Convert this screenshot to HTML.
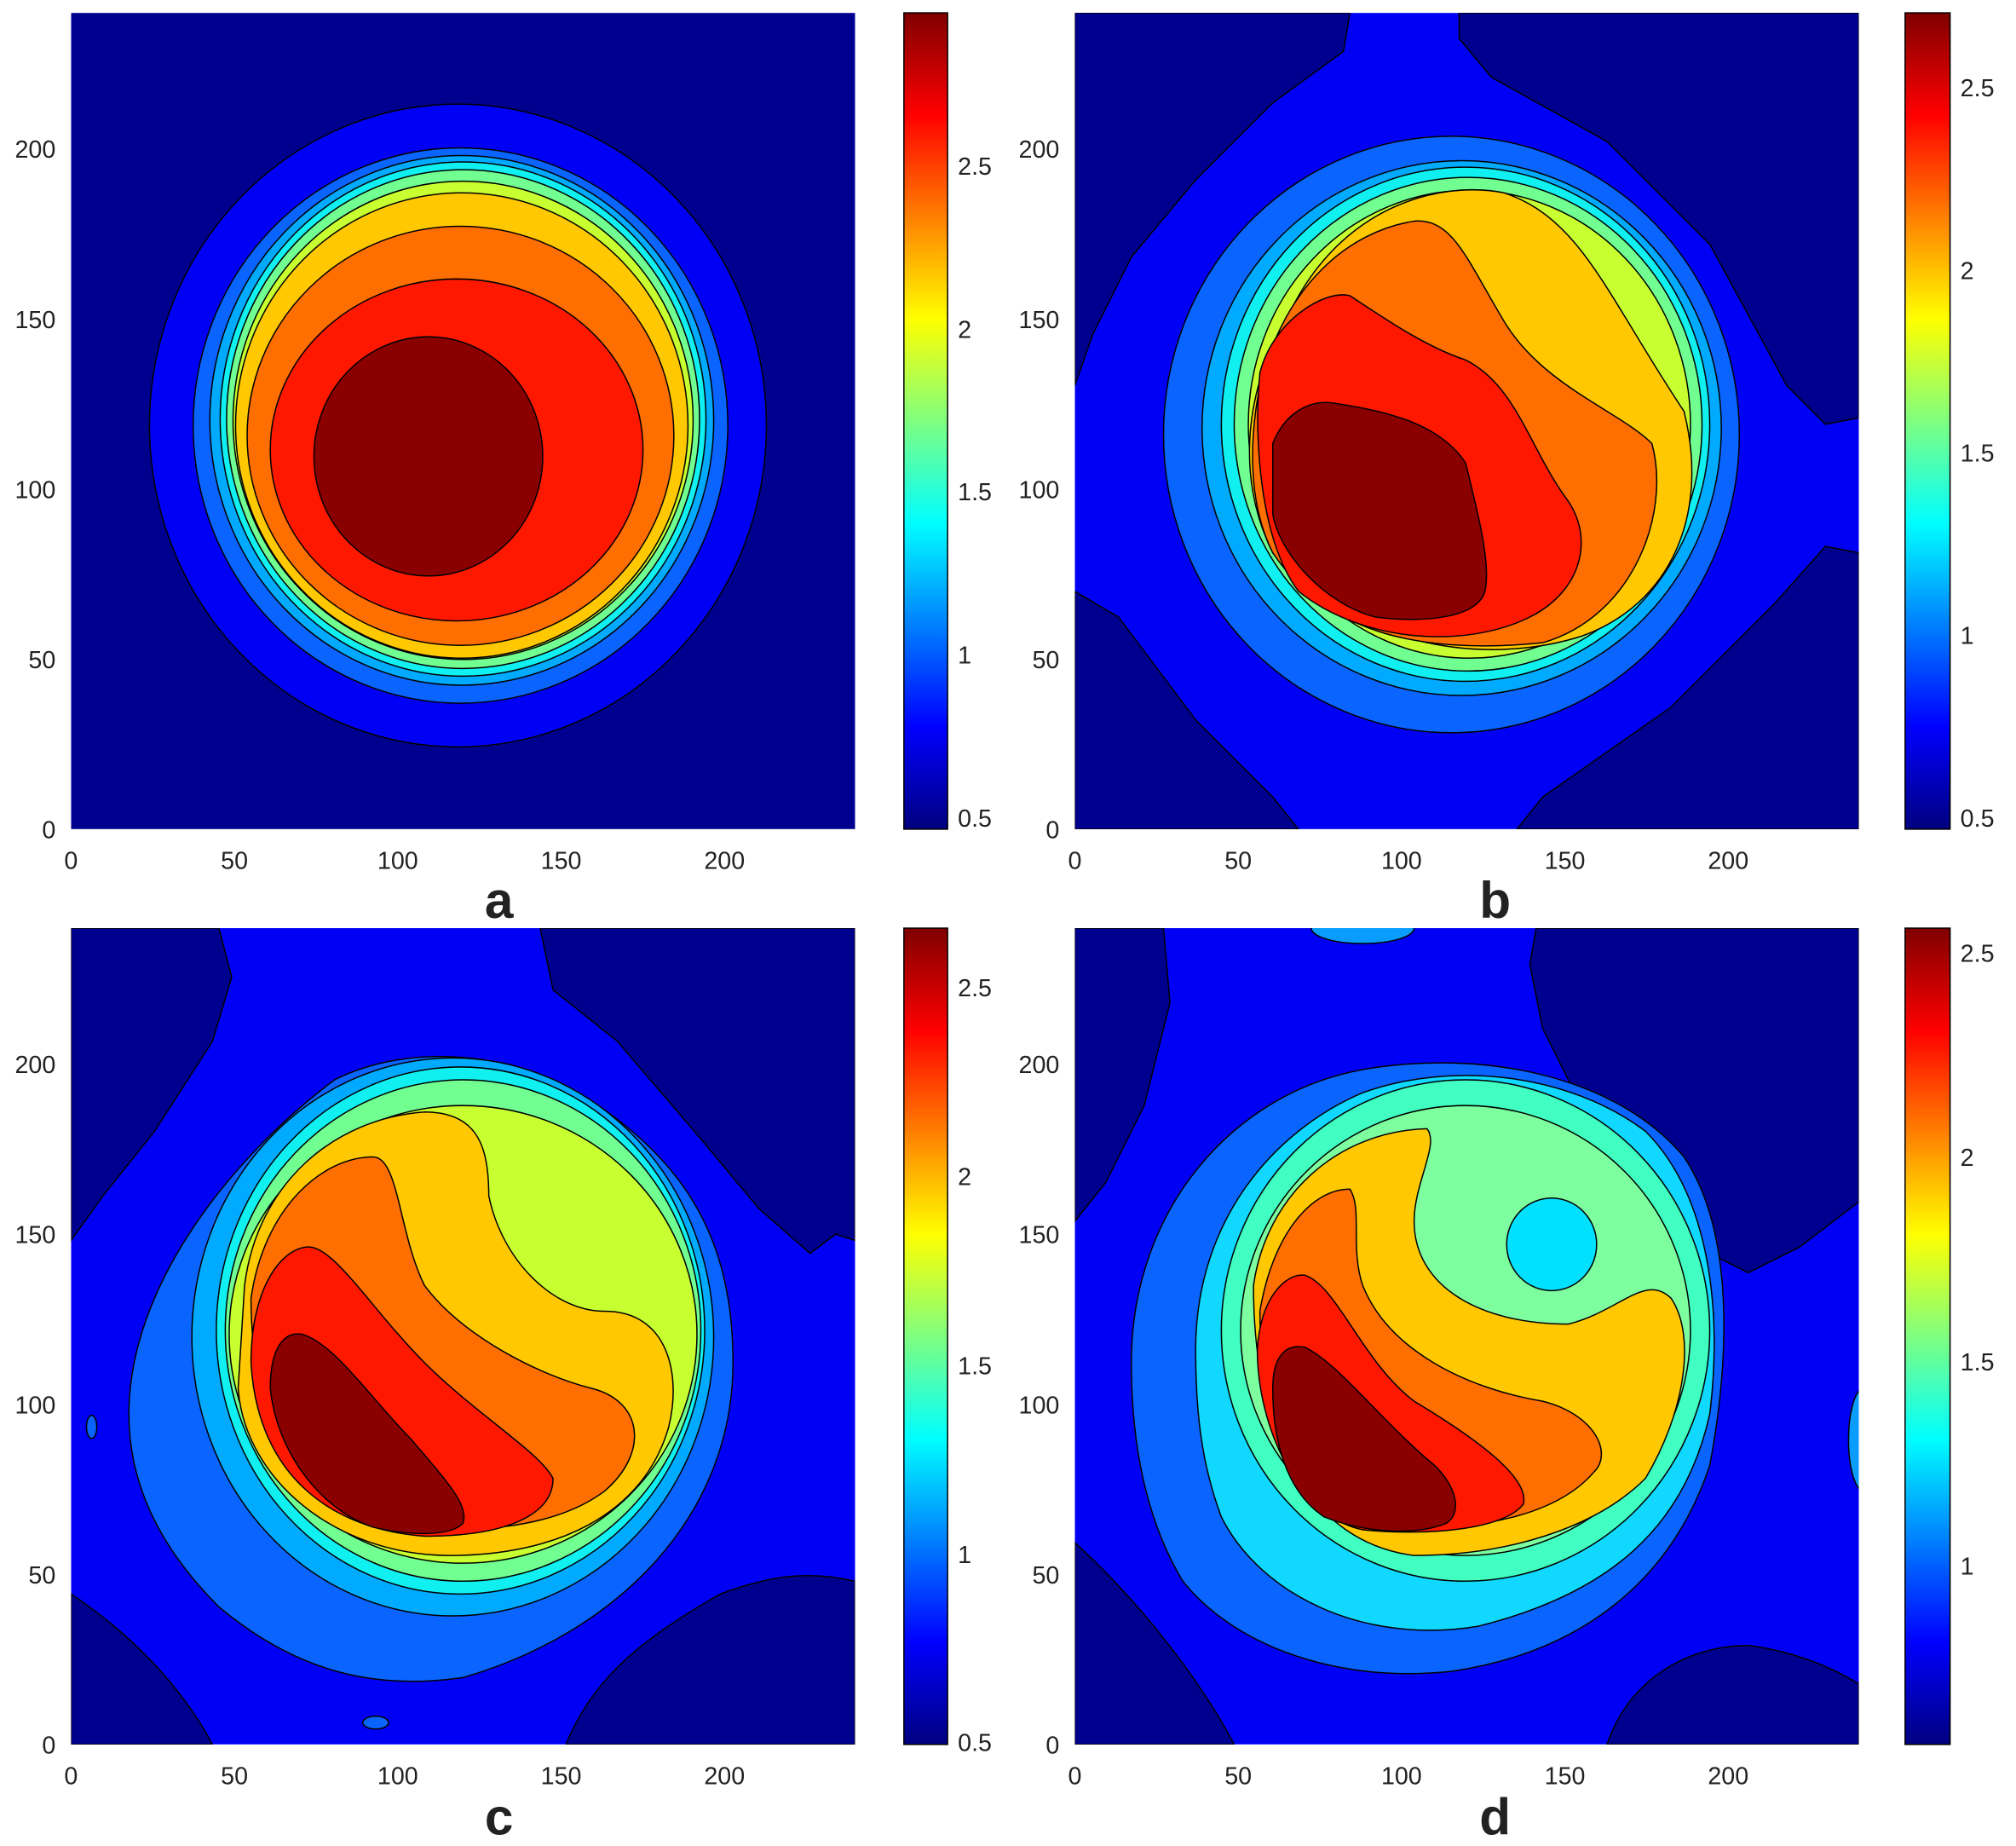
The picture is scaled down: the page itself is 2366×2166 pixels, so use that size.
<!DOCTYPE html>
<html><head><meta charset="utf-8"><style>
html,body{margin:0;padding:0;background:#fff}
svg{display:block}
text{font-family:"Liberation Sans",sans-serif}
</style></head><body>
<svg id="s" width="2366" height="2166" viewBox="0 0 1568 1436" xmlns="http://www.w3.org/2000/svg">
<defs>
<linearGradient id="jet" x1="0" y1="1" x2="0" y2="0">
<stop offset="0" stop-color="#00007f"/><stop offset="0.125" stop-color="#0000ff"/>
<stop offset="0.375" stop-color="#00ffff"/><stop offset="0.625" stop-color="#ffff00"/>
<stop offset="0.875" stop-color="#ff0000"/><stop offset="1" stop-color="#7f0000"/>
</linearGradient>
<clipPath id="ca"><rect x="55" y="10" width="610" height="635"/></clipPath>
<clipPath id="cb"><rect x="836" y="10" width="610" height="635"/></clipPath>
<clipPath id="cc"><rect x="55" y="722" width="610" height="635"/></clipPath>
<clipPath id="cd"><rect x="836" y="722" width="610" height="635"/></clipPath>
</defs>
<g stroke="#000" stroke-width="1">
<!-- Panel a -->
<g clip-path="url(#ca)">
<rect x="55" y="10" width="610" height="635" fill="#00008f" stroke="none"/>
<ellipse cx="356" cy="331" rx="240" ry="250" fill="#0000f5"/>
<ellipse cx="358" cy="331" rx="208" ry="216" fill="#0a64ff"/>
<ellipse cx="359" cy="327" rx="196" ry="206" fill="#00aaff"/>
<ellipse cx="360" cy="326" rx="189" ry="200" fill="#10f0f0"/>
<ellipse cx="360" cy="326" rx="184" ry="194" fill="#70ff90"/>
<ellipse cx="360" cy="327" rx="179" ry="186" fill="#c8ff30"/>
<ellipse cx="359" cy="331" rx="176" ry="181" fill="#ffc800"/>
<ellipse cx="358" cy="339" rx="166" ry="163" fill="#ff6e00"/>
<ellipse cx="355" cy="350" rx="145" ry="133" fill="#ff1800"/>
<ellipse cx="333" cy="355" rx="89" ry="93" fill="#8a0000"/>
</g>
<!-- Panel b -->
<g clip-path="url(#cb)">
<rect x="836" y="10" width="610" height="635" fill="#0000f5" stroke="none"/>
<path d="M836,10 L1050,10 1045,40 990,80 930,140 880,200 850,260 836,300Z" fill="#00008f"/>
<path d="M1135,10 L1446,10 1446,325 1420,330 1390,300 1330,190 1250,110 1160,60 1135,30Z" fill="#00008f"/>
<path d="M836,460 L870,480 930,560 990,620 1010,645 836,645Z" fill="#00008f"/>
<path d="M1180,645 L1200,620 1300,550 1380,470 1420,425 1446,430 1446,645Z" fill="#00008f"/>
<ellipse cx="1129" cy="338" rx="224" ry="232" fill="#0a64ff"/>
<ellipse cx="1137" cy="333" rx="202" ry="208" fill="#00aaff"/>
<ellipse cx="1140" cy="330" rx="190" ry="200" fill="#10f0f0"/>
<ellipse cx="1142" cy="330" rx="182" ry="192" fill="#70ff90"/>
<ellipse cx="1143" cy="330" rx="172" ry="182" fill="#c8ff30"/>
<path d="M1000,250 C1040,160 1120,140 1170,150 C1230,170 1250,230 1310,320 C1330,400 1300,470 1230,495 C1150,520 1050,500 990,430 C960,370 970,300 1000,250Z" fill="#ffc800"/>
<path d="M980,300 C1000,220 1050,180 1100,172 C1130,170 1140,200 1170,250 C1200,300 1260,320 1285,345 C1300,400 1270,480 1200,500 C1100,510 1030,490 990,430 C970,390 972,340 980,300Z" fill="#ff6e00"/>
<path d="M980,290 C990,250 1030,225 1050,230 C1080,250 1110,270 1140,280 C1180,300 1190,350 1220,390 C1240,420 1230,460 1190,480 C1140,505 1060,500 1010,460 C980,420 975,340 980,290Z" fill="#ff1800"/>
<path d="M990,345 C1000,320 1020,310 1040,314 C1080,320 1120,330 1140,360 C1150,400 1160,440 1155,460 C1150,480 1110,485 1070,480 C1030,470 995,430 990,400Z" fill="#8a0000"/>
</g>
<!-- Panel c -->
<g clip-path="url(#cc)">
<rect x="55" y="722" width="610" height="635" fill="#0000f5" stroke="none"/>
<path d="M55,722 L170,722 180,760 165,810 120,880 80,930 55,965Z" fill="#00008f"/>
<path d="M420,722 L665,722 665,965 650,960 630,975 590,940 540,880 480,810 430,770Z" fill="#00008f"/>
<path d="M55,1240 C100,1270 140,1310 165,1357 L55,1357Z" fill="#00008f"/>
<path d="M440,1357 C460,1310 490,1280 560,1240 C600,1225 630,1222 665,1230 L665,1357Z" fill="#00008f"/>
<ellipse cx="71" cy="1110" rx="4" ry="9" fill="#0a64ff"/>
<ellipse cx="292" cy="1340" rx="10" ry="5" fill="#0a64ff"/>
<path d="M100,1100 C100,1000 180,900 260,840 C320,810 400,820 450,850 C530,900 570,960 570,1060 C570,1180 480,1270 360,1305 C290,1315 230,1300 170,1250 C120,1200 100,1150 100,1100Z" fill="#0a64ff"/>
<ellipse cx="352" cy="1040" rx="203" ry="217" fill="#00aaff"/>
<ellipse cx="358" cy="1035" rx="190" ry="205" fill="#10f0f0"/>
<ellipse cx="360" cy="1035" rx="185" ry="195" fill="#70ff90"/>
<ellipse cx="360" cy="1038" rx="182" ry="178" fill="#c8ff30"/>
<path d="M190,1000 C200,920 260,870 330,865 C370,865 380,890 380,930 C390,980 430,1020 470,1020 C520,1020 530,1070 520,1110 C500,1180 430,1210 350,1210 C260,1210 190,1150 185,1080Z" fill="#ffc800"/>
<path d="M195,1010 C205,940 250,900 290,900 C310,900 310,960 330,1000 C360,1040 420,1070 460,1080 C500,1090 505,1130 470,1160 C430,1190 360,1195 300,1185 C230,1170 195,1100 195,1010Z" fill="#ff6e00"/>
<path d="M195,1060 C195,1000 220,970 240,970 C260,970 290,1020 330,1060 C370,1100 420,1130 430,1150 C430,1180 390,1195 330,1195 C260,1190 200,1150 195,1060Z" fill="#ff1800"/>
<path d="M210,1080 C210,1050 220,1035 235,1038 C260,1045 290,1090 320,1120 C345,1150 365,1170 360,1185 C350,1195 320,1195 290,1188 C250,1175 215,1130 210,1080Z" fill="#8a0000"/>
</g>
<!-- Panel d -->
<g clip-path="url(#cd)">
<rect x="836" y="722" width="610" height="635" fill="#0000f5" stroke="none"/>
<path d="M836,722 L905,722 910,780 890,860 860,920 836,950Z" fill="#00008f"/>
<path d="M1195,722 L1446,722 1446,935 1400,970 1360,990 1300,960 1240,880 1200,800 1190,750Z" fill="#00008f"/>
<path d="M1250,1357 C1270,1300 1320,1280 1360,1280 C1400,1285 1430,1300 1446,1310 L1446,1357Z" fill="#00008f"/>
<path d="M836,1200 C880,1240 930,1300 960,1357 L836,1357Z" fill="#00008f"/>
<ellipse cx="1060" cy="722" rx="40" ry="12" fill="#0a9cff"/>
<ellipse cx="1450" cy="1120" rx="12" ry="40" fill="#0a9cff"/>
<path d="M880,1060 C880,940 960,850 1060,832 C1160,815 1260,840 1310,900 C1350,960 1345,1060 1330,1140 C1300,1230 1230,1285 1130,1300 C1040,1310 960,1280 920,1230 C890,1180 880,1120 880,1060Z" fill="#0a64ff"/>
<path d="M930,1050 C930,950 990,880 1060,850 C1130,825 1220,835 1280,880 C1330,930 1340,1020 1330,1100 C1310,1190 1250,1240 1150,1265 C1060,1280 980,1240 950,1180 C935,1140 930,1100 930,1050Z" fill="#10d8ff"/>
<ellipse cx="1140" cy="1035" rx="190" ry="195" fill="#40ffc0"/>
<ellipse cx="1140" cy="1035" rx="175" ry="175" fill="#7dffa0"/>
<path d="M975,1000 C985,930 1040,880 1110,878 C1120,890 1100,920 1100,950 C1100,1000 1150,1030 1220,1030 C1260,1020 1280,990 1300,1010 C1320,1040 1310,1100 1280,1150 C1240,1190 1170,1210 1100,1210 C1020,1200 975,1120 975,1000Z" fill="#ffc800"/>
<path d="M980,1020 C990,960 1020,925 1050,925 C1060,940 1050,970 1060,1000 C1080,1050 1140,1080 1200,1090 C1240,1100 1255,1130 1240,1145 C1210,1180 1150,1190 1080,1190 C1010,1180 980,1100 980,1020Z" fill="#ff6e00"/>
<path d="M978,1050 C980,1010 1000,990 1015,992 C1040,1000 1060,1060 1100,1090 C1150,1120 1190,1150 1185,1170 C1170,1190 1110,1195 1060,1190 C1010,1180 978,1110 978,1050Z" fill="#ff1800"/>
<path d="M990,1080 C990,1055 1000,1045 1015,1048 C1040,1060 1070,1100 1110,1135 C1130,1150 1140,1175 1125,1185 C1100,1195 1060,1192 1030,1180 C1000,1160 990,1120 990,1080Z" fill="#8a0000"/>
<ellipse cx="1207" cy="968" rx="35" ry="36" fill="#00e0ff"/>
</g>
</g>
<!-- colorbars -->
<g stroke="#000" stroke-width="1" fill="url(#jet)">
<rect x="703" y="10" width="34" height="635"/>
<rect x="1482" y="10" width="35" height="635"/>
<rect x="703" y="722" width="34" height="635"/>
<rect x="1482" y="722" width="35" height="635"/>
</g>
<g font-size="19" fill="#222">
<text x="388" y="714" font-size="40" font-weight="bold" text-anchor="middle">a</text>
<text x="1163" y="714" font-size="40" font-weight="bold" text-anchor="middle">b</text>
<text x="388" y="1427" font-size="40" font-weight="bold" text-anchor="middle">c</text>
<text x="1163" y="1427" font-size="40" font-weight="bold" text-anchor="middle">d</text>
</g>
<g id="ticks" font-size="19" fill="#222"></g>
</svg>
<script>
var g=document.getElementById('ticks'),ns='http://www.w3.org/2000/svg';
function t(x,y,s,a){var e=document.createElementNS(ns,'text');e.setAttribute('x',x);e.setAttribute('y',y);if(a)e.setAttribute('text-anchor',a);e.textContent=s;g.appendChild(e);}
var px=[[55,10],[836,10],[55,722],[836,722]];
px.forEach(function(p){
 for(var i=0;i<5;i++){t(p[0]+i*50*2.542,p[1]+666,String(i*50),'middle');
  t(p[0]-12,p[1]+635-i*50*2.646+7,String(i*50),'end');}
});
var cb=[[745,[[129,'2.5'],[256,'2'],[382,'1.5'],[509,'1'],[636,'0.5']]],
[1525,[[68,'2.5'],[210,'2'],[352,'1.5'],[494,'1'],[636,'0.5']]],
[745,[[768,'2.5'],[915,'2'],[1062,'1.5'],[1209,'1'],[1355,'0.5']]],
[1525,[[741,'2.5'],[900,'2'],[1059,'1.5'],[1218,'1']]]];
cb.forEach(function(c){c[1].forEach(function(l){t(c[0],l[0]+7,l[1]);});});
</script>
</body></html>
